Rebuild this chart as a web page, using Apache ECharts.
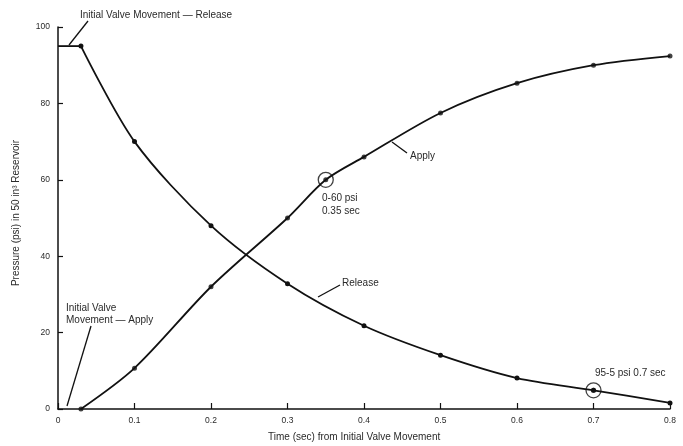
<!DOCTYPE html>
<html><head><meta charset="utf-8">
<script src="https://cdn.jsdelivr.net/npm/echarts@6/dist/echarts.min.js"></script>
<style>html,body{margin:0;padding:0;background:#fff}#c{width:683px;height:446px}</style>
</head><body><div id="c"></div>
<script>
const applyTimes = [0.03, 0.1, 0.2, 0.3, 0.35, 0.4, 0.5, 0.6, 0.7, 0.8];
const applyPsi   = [0, 10.7, 32, 50, 60, 66, 77.5, 85.3, 90, 92.4];
const applyDots  = [0.03, 0.1, 0.2, 0.3, 0.4, 0.5, 0.6, 0.7, 0.8];
const releaseFlatTimes = [0, 0.03];
const releaseFlatPsi = [95, 95];
const releaseTimes = [0.03, 0.1, 0.2, 0.3, 0.4, 0.5, 0.6, 0.7, 0.8];
const releasePsi   = [95, 70, 48, 32.8, 21.8, 14.1, 8.1, 4.9, 1.6];
const circled = [[0.35, 60], [0.7, 4.9]];
const xTicks = [0, 0.1, 0.2, 0.3, 0.4, 0.5, 0.6, 0.7, 0.8];
const yTicks = [0, 20, 40, 60, 80, 100];

const FONT = 'Liberation Sans, Arial, sans-serif';
const TXT = '#2a2a2a';
const F = '10px ' + FONT;
const chart = echarts.init(document.getElementById('c'));
const zip = (a, b) => a.map((v, i) => [v, b[i]]);
const applyData = zip(applyTimes, applyPsi);
const dotData = applyData.filter(p => applyDots.includes(p[0]));

chart.setOption({
  animation: false,
  backgroundColor: '#fff',
  grid: {left: 58, right: 13, top: 27, bottom: 37},
  xAxis: {
    type: 'value', min: xTicks[0], max: xTicks[xTicks.length - 1], interval: 0.1,
    axisLine: {lineStyle: {color: '#111', width: 1.5}},
    axisTick: {inside: true, length: 6, lineStyle: {color: '#111', width: 1.2}},
    axisLabel: {fontFamily: FONT, fontSize: 8.5, color: TXT, margin: 7, formatter: v => v === 0 ? '0' : v.toFixed(1)},
    splitLine: {show: false}
  },
  yAxis: {
    type: 'value', min: yTicks[0], max: yTicks[yTicks.length - 1], interval: 20,
    axisLine: {lineStyle: {color: '#111', width: 1.5}},
    axisTick: {inside: true, length: 5, lineStyle: {color: '#111', width: 1.2}},
    axisLabel: {fontFamily: FONT, fontSize: 8.5, color: TXT, margin: 8},
    splitLine: {show: false}
  },
  series: [
    {type: 'line', data: applyData, smooth: 0.3, showSymbol: false,
     lineStyle: {color: '#111', width: 1.8}},
    {type: 'scatter', data: dotData, symbolSize: 5, itemStyle: {color: '#111'}},
    {type: 'line', data: zip(releaseFlatTimes, releaseFlatPsi), showSymbol: false,
     lineStyle: {color: '#111', width: 1.8}},
    {type: 'line', data: zip(releaseTimes, releasePsi), smooth: 0.3, symbol: 'circle', symbolSize: 5,
     itemStyle: {color: '#111'}, lineStyle: {color: '#111', width: 1.8}},
    {type: 'scatter', data: circled, symbol: 'circle', symbolSize: 5, itemStyle: {color: '#111'}, z: 5},
    {type: 'scatter', data: circled, symbol: 'circle', symbolSize: 15,
     itemStyle: {color: 'rgba(0,0,0,0)', borderColor: '#111', borderWidth: 1.3}, z: 5}
  ],
  graphic: [
    {type: 'text', x: 268, y: 437, style: {text: 'Time (sec) from Initial Valve Movement', font: F, fill: TXT, verticalAlign: 'middle'}},
    {type: 'text', x: 16, y: 213, rotation: Math.PI / 2, style: {text: 'Pressure (psi) in 50 in³ Reservoir', font: F, fill: TXT, align: 'center', verticalAlign: 'middle'}},
    {type: 'text', x: 80, y: 15, style: {text: 'Initial Valve Movement — Release', font: F, fill: TXT, verticalAlign: 'middle'}},
    {type: 'line', shape: {x1: 88, y1: 21, x2: 69, y2: 45}, style: {stroke: '#111', lineWidth: 1.3}},
    {type: 'text', x: 66, y: 308, style: {text: 'Initial Valve', font: F, fill: TXT, verticalAlign: 'middle'}},
    {type: 'text', x: 66, y: 320, style: {text: 'Movement — Apply', font: F, fill: TXT, verticalAlign: 'middle'}},
    {type: 'line', shape: {x1: 91, y1: 326, x2: 67, y2: 406}, style: {stroke: '#111', lineWidth: 1.3}},
    {type: 'text', x: 410, y: 156, style: {text: 'Apply', font: F, fill: TXT, verticalAlign: 'middle'}},
    {type: 'line', shape: {x1: 392, y1: 142, x2: 407, y2: 153}, style: {stroke: '#111', lineWidth: 1.3}},
    {type: 'text', x: 322, y: 198, style: {text: '0-60 psi', font: F, fill: TXT, verticalAlign: 'middle'}},
    {type: 'text', x: 322, y: 211, style: {text: '0.35 sec', font: F, fill: TXT, verticalAlign: 'middle'}},
    {type: 'text', x: 342, y: 283, style: {text: 'Release', font: F, fill: TXT, verticalAlign: 'middle'}},
    {type: 'line', shape: {x1: 318, y1: 297, x2: 340, y2: 285}, style: {stroke: '#111', lineWidth: 1.3}},
    {type: 'text', x: 595, y: 373, style: {text: '95-5 psi 0.7 sec', font: F, fill: TXT, verticalAlign: 'middle'}}
  ]
});
</script></body></html>
